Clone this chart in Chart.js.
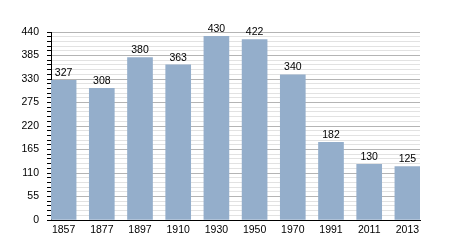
<!DOCTYPE html>
<html>
<head>
<meta charset="utf-8">
<script src="https://cdn.jsdelivr.net/npm/chart.js@4/dist/chart.umd.min.js"></script>
<style>
  html, body { margin: 0; padding: 0; background: #fff; }
  #chart { display: block; }
</style>
</head>
<body>
<canvas id="chart" width="450" height="250"></canvas>
<script>
/* ─── DATA ───────────────────────────────────────────── */
const years  = ["1857", "1877", "1897", "1910", "1930", "1950", "1970", "1991", "2011", "2013"];
const values = [327, 308, 380, 363, 430, 422, 340, 182, 130, 125];
const yMax   = 440;
const yMajor = 55;
const yMinor = 11;

const FONT = { family: "'Liberation Sans', Arial, sans-serif", size: 10.5 };

/* ─── VALUE LABELS ───────────────────────────────────── */
const valueLabels = {
  id: "valueLabels",
  afterDatasetsDraw(chart) {
    const ctx = chart.ctx;
    const meta = chart.getDatasetMeta(0);
    ctx.save();
    ctx.font = `${FONT.size}px ${FONT.family}`;
    ctx.fillStyle = "#000";
    ctx.textAlign = "center";
    ctx.textBaseline = "bottom";
    meta.data.forEach((bar, i) => {
      ctx.fillText(values[i], bar.x, bar.y - 2);
    });
    ctx.restore();
  }
};

/* ─── CHART ──────────────────────────────────────────── */
new Chart(document.getElementById("chart"), {
  type: "bar",
  data: {
    datasets: [{
      data: values.map((v, i) => ({ x: i, y: v })),
      backgroundColor: "#94aecb",
      borderWidth: 0,
      barThickness: 25,
    }],
  },
  options: {
    responsive: false,
    animation: false,
    layout: { padding: { top: 32, right: 30, bottom: 0, left: 0 } },
    plugins: {
      legend: { display: false },
      tooltip: { enabled: false },
    },
    scales: {
      x: {
        type: "linear",
        offset: false,
        min: -0.33,
        max: years.length - 1 + 0.33,
        grid: { display: false, drawTicks: false },
        border: { color: "#000", width: 1 },
        ticks: {
          stepSize: 1,
          includeBounds: false,
          autoSkip: false,
          maxRotation: 0,
          padding: 4,
          color: "#000",
          font: FONT,
          callback: v => Number.isInteger(v) ? years[v] : "",
        },
        afterFit: s => { s.height = 30; },
      },
      y: {
        min: 0,
        max: yMax,
        grid: {
          color: c => c.tick && c.tick.value % yMajor === 0 ? "#b4b4b4" : "#e2e2e2",
          tickColor: "#000",
          tickLength: 4,
        },
        border: { color: "#000", width: 1 },
        ticks: {
          stepSize: yMinor,
          autoSkip: false,
          padding: 8,
          color: "#000",
          font: FONT,
          callback: v => v % yMajor === 0 ? v : "",
        },
        afterFit: s => { s.width = 51; },
      },
    },
  },
  plugins: [valueLabels],
});
</script>
</body>
</html>
